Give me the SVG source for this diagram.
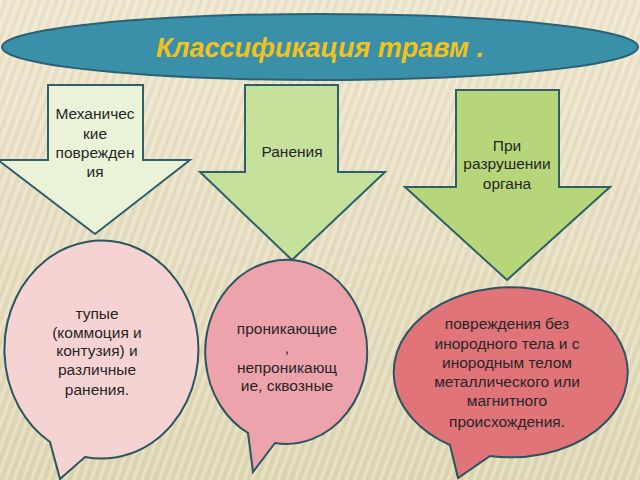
<svg xmlns="http://www.w3.org/2000/svg" width="640" height="480" viewBox="0 0 640 480">
  <defs>
    <linearGradient id="bg" x1="0" y1="0" x2="0" y2="1">
      <stop offset="0" stop-color="#ede4cc"/>
      <stop offset="1" stop-color="#ddd5b2"/>
    </linearGradient>
    <pattern id="stripes" width="8" height="8" patternUnits="userSpaceOnUse" patternTransform="rotate(20)">
      <rect x="0" y="0" width="3" height="8" fill="#ffffff" opacity="0.25"/>
      <rect x="5" y="0" width="1" height="8" fill="#c9b98f" opacity="0.22"/>
    </pattern>
    <style>
      .arrow { stroke: #2f6068; stroke-width: 2; }
      .bubble { stroke: #2b5560; stroke-width: 2; }
      .lbl { font-family: "Liberation Sans", Arial, sans-serif; font-size: 15.5px; fill: #262626; text-anchor: middle; }
      .title { font-family: "Liberation Sans", Arial, sans-serif; font-size: 27px; font-weight: bold; font-style: italic; fill: #f2c21b; text-anchor: middle; }
    </style>
  </defs>

  <rect width="640" height="480" fill="url(#bg)"/>
  <rect width="640" height="480" fill="url(#stripes)"/>

  <g id="title">
    <ellipse cx="320" cy="47" rx="318" ry="33" fill="#3a8fa9" stroke="#2c6275" stroke-width="2"/>
    <text class="title" x="320" y="57">Классификация травм .</text>
  </g>

  <g id="bubble1">
    <path class="bubble" fill="#f6d3d3" d="M 50 442 L 60 479 L 85 457 A 97 109 0 1 0 50 442 Z"/>
    <text class="lbl" x="97" y="319">тупые</text>
    <text class="lbl" x="97" y="338">(коммоция и</text>
    <text class="lbl" x="97" y="356">контузия) и</text>
    <text class="lbl" x="97" y="375">различные</text>
    <text class="lbl" x="97" y="395">ранения.</text>
  </g>

  <g id="bubble2">
    <path class="bubble" fill="#eda3ab" d="M 248 433 L 253 472 L 275 443 A 81 92 0 1 0 248 433 Z"/>
    <text class="lbl" x="287" y="334">проникающие</text>
    <text class="lbl" x="287" y="353">,</text>
    <text class="lbl" x="287" y="373">непроникающ</text>
    <text class="lbl" x="287" y="391">ие, сквозные</text>
  </g>

  <g id="bubble3">
    <path class="bubble" fill="#e07479" d="M 450 445 L 458 478 L 490 456 A 117 85 0 1 0 450 445 Z"/>
    <text class="lbl" x="507" y="329">повреждения без</text>
    <text class="lbl" x="507" y="349">инородного тела и с</text>
    <text class="lbl" x="507" y="368">инородным телом</text>
    <text class="lbl" x="507" y="387">металлического или</text>
    <text class="lbl" x="507" y="406">магнитного</text>
    <text class="lbl" x="507" y="427">происхождения.</text>
  </g>

  <g id="arrow1">
    <path class="arrow" fill="#eaf3d8" d="M 48 85 L 143 85 L 143 160 L 190 160 L 95 234 L -2 160 L 48 160 Z"/>
    <text class="lbl" x="95" y="119">Механичес</text>
    <text class="lbl" x="95" y="139">кие</text>
    <text class="lbl" x="95" y="158">поврежден</text>
    <text class="lbl" x="95" y="177">ия</text>
  </g>

  <g id="arrow2">
    <path class="arrow" fill="#c6e19c" d="M 245 85 L 338 85 L 338 172 L 385 172 L 292 260 L 200 172 L 245 172 Z"/>
    <text class="lbl" x="292" y="157">Ранения</text>
  </g>

  <g id="arrow3">
    <path class="arrow" fill="#b7d67a" d="M 456 90 L 559 90 L 559 187 L 610 187 L 507 280 L 405 187 L 456 187 Z"/>
    <text class="lbl" x="507" y="151">При</text>
    <text class="lbl" x="507" y="169">разрушении</text>
    <text class="lbl" x="507" y="189">органа</text>
  </g>

  <g id="connectors"></g>
</svg>
